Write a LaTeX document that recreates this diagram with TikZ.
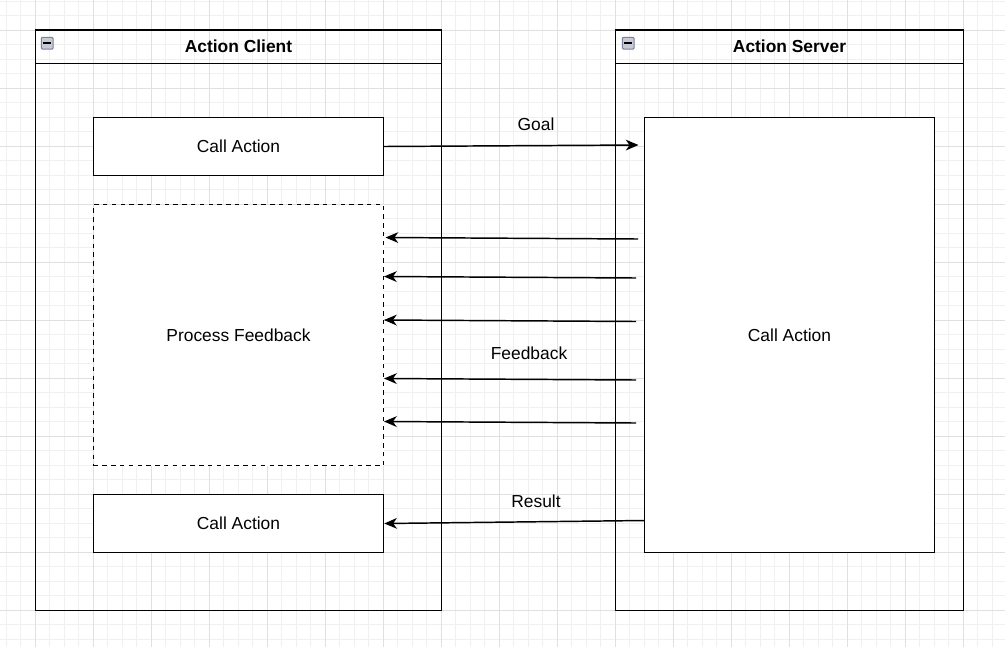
\documentclass[tikz,border=0pt]{standalone}
\usepackage{fontspec}
\setmainfont{Liberation Sans}
\usetikzlibrary{arrows.meta,calc}
\definecolor{gridminor}{HTML}{F0F0F0}
\definecolor{gridmajor}{HTML}{E0E0E0}
\definecolor{iconborder}{HTML}{7A809A}
\definecolor{iconfill}{HTML}{C8CAD6}
\tikzset{
  every node/.style={font=\fontsize{13.05pt}{15pt}\selectfont, inner sep=0pt},
  lane/.style={draw=black, line width=1.1pt, fill=none},
  lanehead/.style={draw=black, line width=1.1pt, fill=none, font=\fontsize{13.05pt}{15pt}\selectfont\bfseries},
  stepbox/.style={draw=black, line width=1.1pt, fill=white},
  dashbox/.style={draw=black, line width=1.1pt, fill=white, dash pattern=on 3.3pt off 3.3pt},
  flow/.style={line width=1.1pt, -{Stealth[length=9.5pt, width=8pt, inset=2.8pt]}},
  lbl/.style={fill=none},
  icon/.style={draw=iconborder, line width=0.8pt, fill=iconfill, rounded corners=0.8pt, minimum width=8.8pt, minimum height=8.8pt},
}
\begin{document}
\begin{tikzpicture}[x=0.75pt, y=-0.75pt]
  \useasboundingbox (0,0) rectangle (1005,647);
  \fill[white] (0,0) rectangle (1005,647);
  % grid
  \foreach \i in {-3,...,70} {
    \pgfmathsetmacro{\gx}{35.3+14.5*\i}
    \draw[gridminor, line width=0.75pt] (\gx,0) -- (\gx,647);
    \draw[gridminor, line width=0.75pt] (0,\gx-5) -- (1005,\gx-5);
  }
  \foreach \i in {-1,...,17} {
    \pgfmathsetmacro{\gx}{35.3+58*\i}
    \draw[gridmajor, line width=0.75pt] (\gx,0) -- (\gx,647);
    \draw[gridmajor, line width=0.75pt] (0,\gx-5) -- (1005,\gx-5);
  }

  % containers
  \node[lane, minimum width=304.5pt, minimum height=435pt] (client) at (238.5,320.5) {};
  \node[lanehead, minimum width=304.5pt, minimum height=25pt] (clienthead) at (238.5,46.7) {Action Client};
  \node[icon] (clienticon) at (47.2,43.2) {};
  \draw[black, line width=1.4pt] ($(clienticon.center)+(-3pt,0)$) -- ($(clienticon.center)+(3pt,0)$);

  \node[lane, minimum width=261pt, minimum height=435pt] (server) at (789.5,320.5) {};
  \node[lanehead, minimum width=261pt, minimum height=25pt] (serverhead) at (789.5,46.7) {Action Server};
  \node[icon] (servericon) at (628.2,43.2) {};
  \draw[black, line width=1.4pt] ($(servericon.center)+(-3pt,0)$) -- ($(servericon.center)+(3pt,0)$);

  % inner boxes
  \node[stepbox, minimum width=217.5pt, minimum height=43.5pt] (callA) at (238.5,146.5) {Call Action};
  \node[dashbox, minimum width=217.5pt, minimum height=195.75pt] (pf) at (238.5,335) {Process Feedback};
  \node[stepbox, minimum width=217.5pt, minimum height=43.5pt] (callC) at (238.5,523.5) {Call Action};
  \node[stepbox, minimum width=217.5pt, minimum height=326.25pt] (srv) at (789.5,335) {Call Action};

  % connector end points
  \coordinate (goalEnd) at (638.5,145);
  \coordinate (f1s) at (638,239);   \coordinate (f1e) at (385.5,237.5);
  \coordinate (f2s) at (636,278);   \coordinate (f2e) at (384,276.5);
  \coordinate (f3s) at (636,321.5); \coordinate (f3e) at (384,320);
  \coordinate (f4s) at (636,380);   \coordinate (f4e) at (384,378.5);
  \coordinate (f5s) at (636,423);   \coordinate (f5e) at (384,421.5);
  \coordinate (resS) at (644.5,520.5);

  \draw[flow] (callA.east) -- (goalEnd);
  \draw[flow] (f1s) -- (f1e);
  \draw[flow] (f2s) -- (f2e);
  \draw[flow] (f3s) -- (f3e);
  \draw[flow] (f4s) -- (f4e);
  \draw[flow] (f5s) -- (f5e);
  \draw[flow] (resS) -- (callC.east);

  \node[lbl] (goal) at (536,124.5) {Goal};
  \node[lbl] (feedback) at (529,353.5) {Feedback};
  \node[lbl] (result) at (536,501.5) {Result};
\end{tikzpicture}
\end{document}
